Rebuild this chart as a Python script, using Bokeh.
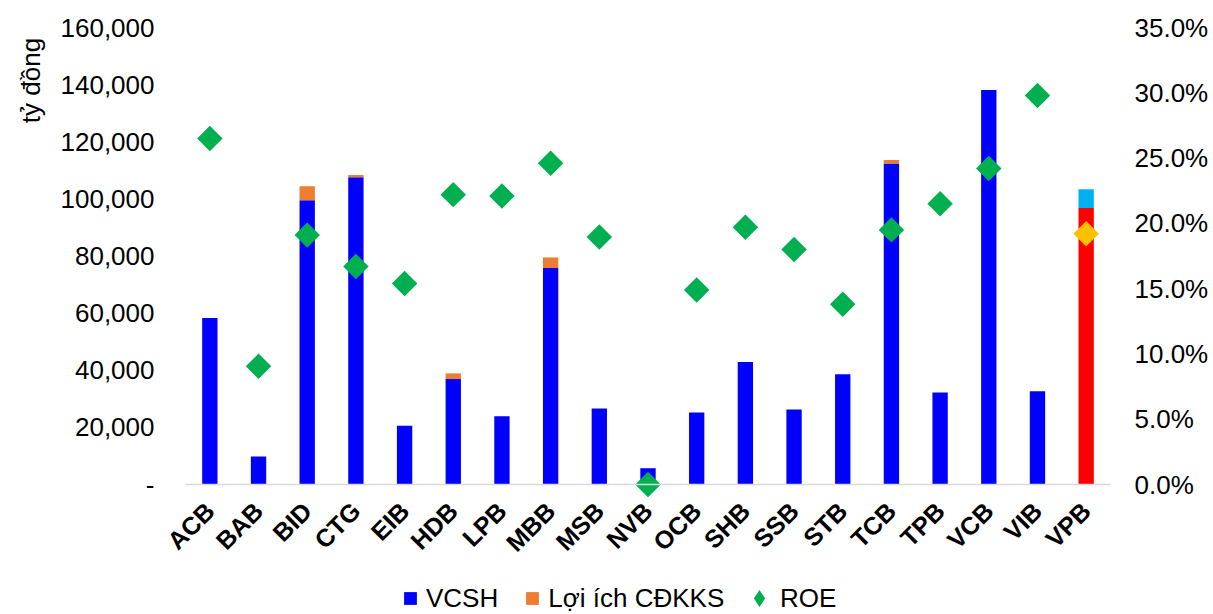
import numpy as np
from bokeh.plotting import figure
from bokeh.models import (ColumnDataSource, Range1d, LinearAxis, FixedTicker,
                          NumeralTickFormatter, Legend, LegendItem, Label)
from bokeh.embed import file_html
from bokeh.resources import INLINE

banks = ["ACB", "BAB", "BID", "CTG", "EIB", "HDB", "LPB", "MBB", "MSB", "NVB",
         "OCB", "SHB", "SSB", "STB", "TCB", "TPB", "VCB", "VIB", "VPB"]
vcsh = [58300, 9800, 99500, 107600, 20600, 36900, 23900, 75800, 26600, 5700,
        25200, 42900, 26250, 38600, 112350, 32200, 138100, 32650, 96800]
loi_ich = [0, 0, 4900, 800, 0, 2000, 0, 3700, 0, 0,
           0, 0, 0, 0, 1300, 0, 0, 0, 6550]
roe = [0.265, 0.0905, 0.191, 0.167, 0.154, 0.222, 0.221, 0.246, 0.1895, 0.0,
       0.149, 0.197, 0.180, 0.138, 0.195, 0.215, 0.242, 0.298, 0.192]
left_ticks = [0, 20000, 40000, 60000, 80000, 100000, 120000, 140000, 160000]
right_ticks = [0.0, 0.05, 0.10, 0.15, 0.20, 0.25, 0.30, 0.35]
legend_labels = ["VCSH", "Lợi ích CĐKKS", "ROE"]
y_title = "tỷ đồng"

BLUE, ORANGE, GREEN = "#0000FF", "#ED7D31", "#00B050"
RED, CYAN, GOLD = "#FF0000", "#00B0F0", "#FFC000"
highlight = "VPB"

n = len(banks)
xpos = [i + 0.5 for i in range(n)]          # category centres
total = [a + b for a, b in zip(vcsh, loi_ich)]
c1 = [RED if b == highlight else BLUE for b in banks]
c2 = [CYAN if b == highlight else ORANGE for b in banks]
c3 = [GOLD if b == highlight else GREEN for b in banks]

src = ColumnDataSource(dict(x=xpos, vcsh=vcsh, total=total, roe=roe, c1=c1, c2=c2, c3=c3))

FONT = "Liberation Sans"

# canvas geometry in pixels: the plotting band spans x 185..1110, y 27 (top tick) .. 484 (zero)
W, H = 1213, 614
LEFT, RIGHT, TOP, ZERO = 185, 1110, 27, 484
YMAX, RMAX = 160000, 0.35
ux = (RIGHT - LEFT) / n
uy = YMAX / (ZERO - TOP)
ur = RMAX / (ZERO - TOP)
x_range = Range1d(-LEFT / ux, n + (W - RIGHT) / ux)
y_range = Range1d(-(H - ZERO) * uy, YMAX + TOP * uy)

p = figure(width=W, height=H, x_range=x_range, y_range=y_range,
           output_backend="svg", toolbar_location=None,
           min_border_left=0, min_border_right=0, min_border_top=0, min_border_bottom=0)
p.outline_line_color = None
p.xgrid.grid_line_color = None
p.ygrid.grid_line_color = None
p.extra_y_ranges = {"roe": Range1d(-(H - ZERO) * ur, RMAX + TOP * ur)}

p.vbar(x="x", top="vcsh", bottom=0, width=0.315, fill_color="c1", line_color=None, source=src)
p.vbar(x="x", top="total", bottom="vcsh", width=0.315, fill_color="c2", line_color=None, source=src)
p.scatter(x="x", y="roe", marker="square", size=18, angle=np.pi / 4, fill_color="c3",
          line_color=None, y_range_name="roe", source=src)

# left axis
ya = p.yaxis[0]
ya.fixed_location = 0
ya.ticker = FixedTicker(ticks=left_ticks)
ya.formatter = NumeralTickFormatter(format="0,0")
ya.major_label_overrides = {0: "-"}
ya.axis_line_color = None
ya.major_tick_line_color = None
ya.major_tick_out = 0
ya.major_tick_in = 0
ya.minor_tick_line_color = None
ya.major_label_standoff = 31
ya.major_label_text_font = FONT
ya.major_label_text_font_size = "26px"
ya.major_label_text_color = "black"

# right axis (ROE)
ra = LinearAxis(y_range_name="roe", ticker=FixedTicker(ticks=right_ticks),
                formatter=NumeralTickFormatter(format="0.0%"), fixed_location=n)
ra.axis_line_color = None
ra.major_tick_line_color = None
ra.major_tick_out = 0
ra.major_tick_in = 0
ra.minor_tick_line_color = None
ra.major_label_standoff = 24
ra.major_label_text_font = FONT
ra.major_label_text_font_size = "26px"
ra.major_label_text_color = "black"
p.add_layout(ra, "right")

# bottom category axis
xa = p.xaxis[0]
xa.fixed_location = 0
xa.bounds = (0, n)
xa.ticker = FixedTicker(ticks=xpos)
xa.major_label_overrides = {x: b for x, b in zip(xpos, banks)}
xa.axis_line_color = "#D9D9D9"
xa.axis_line_width = 1.5
xa.major_tick_line_color = None
xa.major_tick_out = 0
xa.major_tick_in = 0
xa.minor_tick_line_color = None
xa.major_label_orientation = np.pi / 4
xa.major_label_standoff = 22
xa.major_label_text_font = FONT
xa.major_label_text_font_style = "bold"
xa.major_label_text_font_size = "25px"
xa.major_label_text_color = "black"

p.add_layout(Label(x=30, y=(ZERO - 80) * uy, x_units="screen", y_units="data", text=y_title,
                   angle=np.pi / 2, text_align="center", text_baseline="middle",
                   text_font=FONT, text_font_size="26px", text_color="black"))

# legend-only renderers (no visible data)
r1 = p.scatter(x=[np.nan], y=[np.nan], marker="square", fill_color=BLUE, line_color=None)
r2 = p.scatter(x=[np.nan], y=[np.nan], marker="square", fill_color=ORANGE, line_color=None)
r3 = p.scatter(x=[np.nan], y=[np.nan], marker="diamond", fill_color=GREEN, line_color=None)

leg_style = dict(orientation="horizontal", padding=0, margin=0, border_line_color=None,
                 background_fill_alpha=0, label_text_font=FONT, label_text_font_size="26px",
                 label_text_color="black")
legend_a = Legend(items=[LegendItem(label=legend_labels[0], renderers=[r1]),
                         LegendItem(label=legend_labels[1], renderers=[r2])],
                  location=(394, 0), glyph_width=32, glyph_height=32, label_standoff=0,
                  spacing=18, **leg_style)
legend_b = Legend(items=[LegendItem(label=legend_labels[2], renderers=[r3])],
                  location=(738, -5), glyph_width=42, glyph_height=42, label_standoff=-8,
                  **leg_style)
p.add_layout(legend_a, "center")
p.add_layout(legend_b, "center")

open("out.html", "w").write(file_html(p, INLINE))
